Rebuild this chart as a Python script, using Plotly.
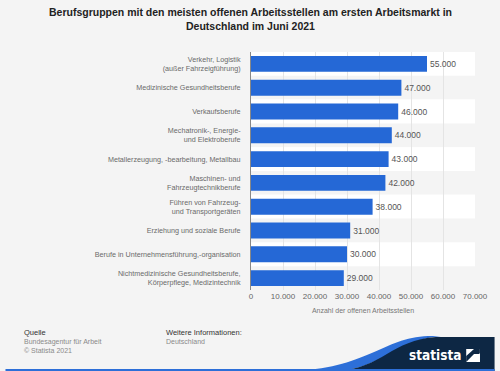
import plotly.graph_objects as go

categories = [
    "Verkehr, Logistik<br>(außer Fahrzeigführung)",
    "Medizinische Gesundheitsberufe",
    "Verkaufsberufe",
    "Mechatronik-, Energie-<br>und Elektroberufe",
    "Metallerzeugung, -bearbeitung, Metallbau",
    "Maschinen- und<br>Fahrzeugtechnikberufe",
    "Führen von Fahrzeug-<br>und Transportgeräten",
    "Erziehung und soziale Berufe",
    "Berufe in Unternehmensführung,-organisation",
    "Nichtmedizinische Gesundheitsberufe,<br>Körperpflege, Medizintechnik",
]
values = [55000, 47000, 46000, 44000, 43000, 42000, 38000, 31000, 30000, 29000]
tick_vals = [0, 10000, 20000, 30000, 40000, 50000, 60000, 70000]

W, H = 500, 371
L, R, T, B = 251, 20, 52, 81
PW, PH = W - L - R, H - T - B

def px(x):
    return (x - L) / PW

def py(y):
    return (H - B - y) / PH

FONT = "Liberation Sans, Arial, sans-serif"

fig = go.Figure()
fig.add_trace(go.Bar(
    x=values, y=categories, orientation="h",
    marker=dict(color="#2568d6", line=dict(width=0)),
    text=[f"{v:,}".replace(",", ".") for v in values],
    textposition="outside", cliponaxis=False,
    textfont=dict(size=8.5, color="#555555", family=FONT),
    width=0.67, hoverinfo="skip",
))

shapes = []
for i in range(len(categories)):
    shapes.append(dict(type="rect", xref="paper", yref="y", x0=0, x1=1,
                       y0=i - 0.5, y1=i + 0.5, layer="below", line=dict(width=0),
                       fillcolor="#ffffff" if i % 2 == 0 else "#f4f4f4"))

def pt(x, y):
    return f"{px(x):.5f},{py(y):.5f}"

navy = ("M " + pt(340, 371) + " C " + pt(385, 368) + " " + pt(395, 340) + " " + pt(440, 337)
        + " L " + pt(500, 337) + " L " + pt(500, 371) + " Z")
blue = ("M " + pt(290, 371) + " C " + pt(370, 369) + " " + pt(385, 338) + " " + pt(432, 336)
        + " L " + pt(445, 336) + " C " + pt(400, 340) + " " + pt(385, 368) + " " + pt(340, 371) + " Z")
shapes.append(dict(type="path", xref="paper", yref="paper", path=blue,
                   fillcolor="#2d6fd8", line=dict(width=0)))
shapes.append(dict(type="path", xref="paper", yref="paper", path=navy,
                   fillcolor="#0d2744", line=dict(width=0)))
shapes.append(dict(type="rect", xref="paper", yref="paper", x0=px(0), x1=px(500),
                   y0=py(371), y1=py(369), fillcolor="#2d6fd8", line=dict(width=0)))
shapes.append(dict(type="path", xref="paper", yref="paper",
                   path="M " + pt(471, 349) + " L " + pt(485, 349) + " L " + pt(485, 362) + " L " + pt(471, 362) + " Z",
                   fillcolor="#ffffff", line=dict(width=0)))
shapes.append(dict(type="path", xref="paper", yref="paper",
                   path="M " + pt(471, 356) + " L " + pt(479, 349) + " L " + pt(485, 349) + " L " + pt(485, 353) + " L " + pt(477, 362) + " L " + pt(471, 362) + " Z",
                   fillcolor="#0d2744", line=dict(width=0)))
shapes.append(dict(type="path", xref="paper", yref="paper",
                   path="M " + pt(471, 362) + " L " + pt(479, 354) + " L " + pt(485, 354) + " L " + pt(485, 362) + " Z",
                   fillcolor="#ffffff", line=dict(width=0)))

annotations = [
    dict(text="<b>Berufsgruppen mit den meisten offenen Arbeitsstellen am ersten Arbeitsmarkt in<br>Deutschland im Juni 2021</b>",
         x=px(250), y=py(19), xref="paper", yref="paper", showarrow=False,
         font=dict(size=10.5, color="#222222", family=FONT), xanchor="center", yanchor="middle"),
    dict(text="Quelle", x=px(17), y=py(332), xref="paper", yref="paper", showarrow=False,
         xanchor="left", yanchor="middle", font=dict(size=7.5, color="#333333", family=FONT)),
    dict(text="Bundesagentur für Arbeit<br>© Statista 2021", x=px(17), y=py(346), xref="paper", yref="paper",
         showarrow=False, xanchor="left", yanchor="middle", align="left",
         font=dict(size=7, color="#8a8a8a", family=FONT)),
    dict(text="Weitere Informationen:", x=px(162), y=py(332), xref="paper", yref="paper", showarrow=False,
         xanchor="left", yanchor="middle", font=dict(size=7.5, color="#333333", family=FONT)),
    dict(text="Deutschland", x=px(162), y=py(341), xref="paper", yref="paper", showarrow=False,
         xanchor="left", yanchor="middle", font=dict(size=7, color="#8a8a8a", family=FONT)),
    dict(text="<b>statista</b>", x=px(468), y=py(355), xref="paper", yref="paper", showarrow=False,
         xanchor="right", yanchor="middle", font=dict(size=13.5, color="#ffffff", family="DejaVu Sans Condensed, Roboto, sans-serif")),
]

fig.update_layout(
    width=W, height=H,
    margin=dict(l=L, r=R, t=T, b=B, pad=0),
    paper_bgcolor="#f4f4f4", plot_bgcolor="#ffffff",
    separators=",.",
    showlegend=False,
    bargap=0.33,
    shapes=shapes, annotations=annotations,
    font=dict(family=FONT),
    xaxis=dict(range=[0, 70000], tickvals=tick_vals, tickformat=",d",
               showgrid=True, gridcolor="#e4e4e4", gridwidth=1, zeroline=False,
               tickfont=dict(size=8, color="#666666", family=FONT),
               ticks="", ticklen=0, showline=False, fixedrange=True,
               title=dict(text="Anzahl der offenen Arbeitsstellen", standoff=8,
                          font=dict(size=7, color="#777777", family=FONT))),
    yaxis=dict(autorange="reversed", showgrid=False, showline=True, linecolor="#888888", linewidth=1,
               ticks="", ticklabelstandoff=8,
               tickfont=dict(size=7.2, color="#6a6a6a", family=FONT), fixedrange=True),
)

fig.write_html("out.html", config={"displayModeBar": False},
               post_script="document.body.style.margin='0';document.body.style.overflow='hidden';")
